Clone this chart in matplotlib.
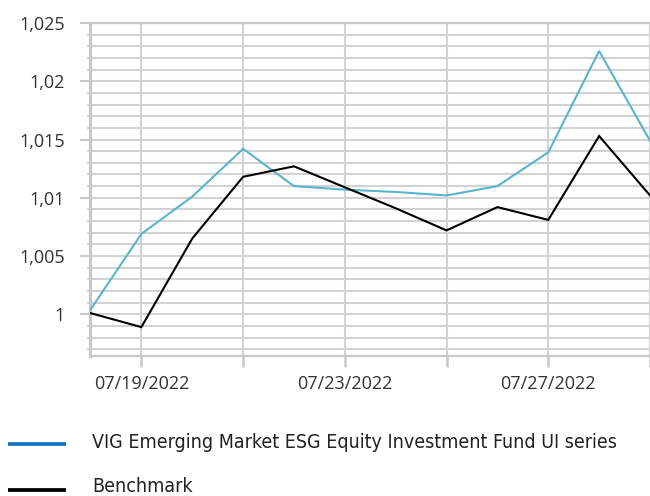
import matplotlib
matplotlib.use("Agg")
import matplotlib.pyplot as plt
import matplotlib.dates as mdates
from matplotlib.lines import Line2D
from matplotlib import font_manager
import numpy as np
import datetime as dt

# ---- data ----
dates = ["2022-07-18", "2022-07-19", "2022-07-20", "2022-07-21", "2022-07-22",
         "2022-07-23", "2022-07-24", "2022-07-25", "2022-07-26", "2022-07-27",
         "2022-07-28", "2022-07-29"]
fund = [1.0004, 1.0069, 1.0101, 1.0142, 1.0110, 1.0107, 1.0105, 1.0102,
        1.0110, 1.0139, 1.0226, 1.0149]
benchmark = [1.0001, 0.9989, 1.0065, 1.0118, 1.0127, 1.0109, 1.0091, 1.0072,
             1.0092, 1.0081, 1.0153, 1.0102]
series_names = ["VIG Emerging Market ESG Equity Investment Fund UI series", "Benchmark"]
ytick_values = [1.0, 1.005, 1.01, 1.015, 1.02, 1.025]
ytick_labels = ["1", "1,005", "1,01", "1,015", "1,02", "1,025"]
xtick_dates = ["2022-07-19", "2022-07-21", "2022-07-23", "2022-07-25", "2022-07-27", "2022-07-29"]
xtick_labels = ["07/19/2022", "", "07/23/2022", "", "07/27/2022", ""]

FUND_COLOR = "#5ab4cc"
FUND_LEGEND_COLOR = "#1a75bc"
BENCH_COLOR = "#000000"
GRID = "#d2d2d2"
SPINE = "#c8c8c8"

W, H = 650, 496
fig = plt.figure(figsize=(W / 100, H / 100), dpi=100)
ax = fig.add_axes([90 / W, (H - 356) / H, (W - 90) / W, (356 - 23) / H])

x = [mdates.date2num(dt.datetime.strptime(d, "%Y-%m-%d")) for d in dates]
ax.plot(x, fund, color=FUND_COLOR, lw=1.5, zorder=3, solid_joinstyle="miter")
ax.plot(x, benchmark, color=BENCH_COLOR, lw=1.5, zorder=4, solid_joinstyle="miter")

x0 = x[0] - 0.01
ax.set_xlim(x0, x0 + (W - 90) / 51.5)
ax.set_ylim(0.99642, 1.025)

xt = [mdates.date2num(dt.datetime.strptime(d, "%Y-%m-%d")) for d in xtick_dates]
ax.set_xticks(xt)
ax.set_xticklabels(xtick_labels)
ax.set_yticks(ytick_values)
ax.set_yticklabels(ytick_labels)
ax.set_yticks(np.arange(0.997, 1.0251, 0.001), minor=True)

ax.grid(True, which="both", axis="y", color=GRID, lw=1.5, zorder=1)
ax.grid(True, which="major", axis="x", color=GRID, lw=1.5, zorder=1)
ax.set_axisbelow(True)

ax.spines["right"].set_visible(False)
ax.spines["left"].set_color(SPINE)
ax.spines["left"].set_linewidth(2.2)
ax.spines["bottom"].set_color(SPINE)
ax.spines["bottom"].set_linewidth(1.6)
ax.spines["top"].set_color(SPINE)
ax.spines["top"].set_linewidth(1.6)

tick_font = "Open Sans"
ax.tick_params(axis="y", which="major", length=7.5, width=1.5, color=SPINE,
               pad=10.5, labelsize=13, labelcolor="#333333")
ax.tick_params(axis="y", which="minor", length=2.5, width=1.2, color=SPINE)
ax.tick_params(axis="x", which="major", length=8, width=1.8, color=SPINE,
               pad=6, labelsize=13, labelcolor="#333333")
for lab in ax.get_xticklabels() + ax.get_yticklabels():
    lab.set_family([tick_font, "DejaVu Sans"])

# ---- legend ----
# prefer a condensed face if one is installed, else a narrow sans
leg_props = dict(family=["Lato", "DejaVu Sans"], fontsize=14)
try:
    fp = font_manager.FontProperties(family="DejaVu Sans", stretch="condensed")
    path = font_manager.findfont(fp, fallback_to_default=False)
    if "Condensed" in path:
        leg_props = dict(family=["DejaVu Sans"], fontstretch="condensed", fontsize=14)
except Exception:
    pass

for (ypix, col) in [(444, FUND_LEGEND_COLOR), (490, BENCH_COLOR)]:
    fig.add_artist(Line2D([8 / W, 66 / W], [(H - ypix) / H] * 2, color=col,
                          lw=2.7, transform=fig.transFigure, solid_capstyle="butt"))
fig.text(92 / W, (H - 448) / H, series_names[0], color="#222222",
         va="baseline", ha="left", **leg_props)
fig.text(92 / W, (H - 495.5) / H, series_names[1], color="#222222",
         va="bottom", ha="left", **leg_props)

fig.savefig("out.png", dpi=100)
